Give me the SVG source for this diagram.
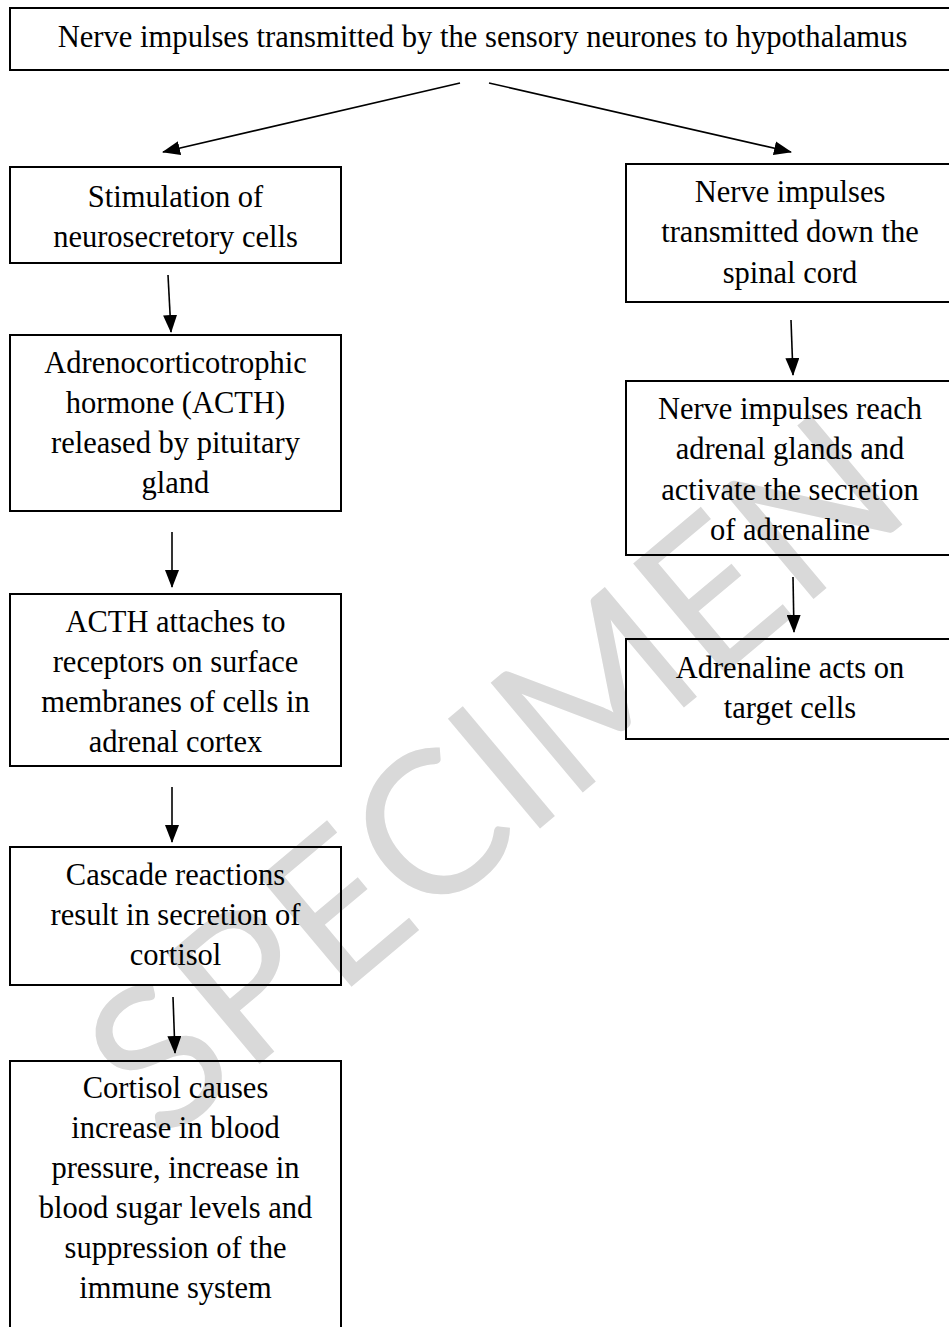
<svg xmlns="http://www.w3.org/2000/svg" width="949" height="1327" viewBox="0 0 949 1327">
<style>
.box{fill:none;stroke:#000;stroke-width:2}
.t{font-family:"Liberation Serif","Times New Roman",serif;font-size:30.5px;fill:#000;text-anchor:middle}
.c{stroke:#000;stroke-width:1.6;fill:none}
.wm{font-family:Lato,"Liberation Sans",sans-serif;font-size:200px;fill:#d9d9d9;text-anchor:middle}
</style>
<defs>
<marker id="ah" markerUnits="userSpaceOnUse" markerWidth="18" markerHeight="14" refX="17" refY="7" orient="auto">
<path d="M0,0 L18,7 L0,14 Z" fill="#000"/>
</marker>
</defs>
<rect width="949" height="1327" fill="#fff"/>
<text class="wm" transform="translate(490,770) rotate(-40)" dominant-baseline="central">SPECIMEN</text>

<g id="n0"><rect class="box" x="10" y="8" width="960" height="62"/>
<text class="t" x="482.5" y="47" style="font-size:30.6px">Nerve impulses transmitted by the sensory neurones to hypothalamus</text></g>

<g id="l1"><rect class="box" x="10" y="167" width="331" height="96"/>
<text class="t" x="175.5" y="207">Stimulation of</text>
<text class="t" x="175.5" y="247">neurosecretory cells</text></g>

<g id="l2"><rect class="box" x="10" y="335" width="331" height="176"/>
<text class="t" x="175.5" y="373">Adrenocorticotrophic</text>
<text class="t" x="175.5" y="413">hormone (ACTH)</text>
<text class="t" x="175.5" y="453">released by pituitary</text>
<text class="t" x="175.5" y="493">gland</text></g>

<g id="l3"><rect class="box" x="10" y="594" width="331" height="172"/>
<text class="t" x="175.5" y="632">ACTH attaches to</text>
<text class="t" x="175.5" y="672">receptors on surface</text>
<text class="t" x="175.5" y="712">membranes of cells in</text>
<text class="t" x="175.5" y="752">adrenal cortex</text></g>

<g id="l4"><rect class="box" x="10" y="847" width="331" height="138"/>
<text class="t" x="175.5" y="885">Cascade reactions</text>
<text class="t" x="175.5" y="925">result in secretion of</text>
<text class="t" x="175.5" y="965">cortisol</text></g>

<g id="l5"><rect class="box" x="10" y="1061" width="331" height="290"/>
<text class="t" x="175.5" y="1098">Cortisol causes</text>
<text class="t" x="175.5" y="1138">increase in blood</text>
<text class="t" x="175.5" y="1178">pressure, increase in</text>
<text class="t" x="175.5" y="1218">blood sugar levels and</text>
<text class="t" x="175.5" y="1258">suppression of the</text>
<text class="t" x="175.5" y="1298">immune system</text></g>

<g id="r1"><rect class="box" x="626" y="164" width="340" height="138"/>
<text class="t" x="790" y="202">Nerve impulses</text>
<text class="t" x="790" y="242">transmitted down the</text>
<text class="t" x="790" y="283">spinal cord</text></g>

<g id="r2"><rect class="box" x="626" y="381" width="340" height="174"/>
<text class="t" x="790" y="419">Nerve impulses reach</text>
<text class="t" x="790" y="459">adrenal glands and</text>
<text class="t" x="790" y="500">activate the secretion</text>
<text class="t" x="790" y="540">of adrenaline</text></g>

<g id="r3"><rect class="box" x="626" y="639" width="340" height="100"/>
<text class="t" x="790" y="678">Adrenaline acts on</text>
<text class="t" x="790" y="718">target cells</text></g>

<g id="connectors">
<line class="c" x1="460" y1="83" x2="163" y2="152" marker-end="url(#ah)"/>
<line class="c" x1="489" y1="83" x2="791" y2="152" marker-end="url(#ah)"/>
<line class="c" x1="168" y1="275" x2="171" y2="332" marker-end="url(#ah)"/>
<line class="c" x1="172" y1="532" x2="172" y2="587" marker-end="url(#ah)"/>
<line class="c" x1="172" y1="787" x2="172" y2="842" marker-end="url(#ah)"/>
<line class="c" x1="173" y1="997" x2="175" y2="1053" marker-end="url(#ah)"/>
<line class="c" x1="791" y1="320" x2="793" y2="375" marker-end="url(#ah)"/>
<line class="c" x1="793" y1="577" x2="794" y2="632" marker-end="url(#ah)"/>
</g>
</svg>
